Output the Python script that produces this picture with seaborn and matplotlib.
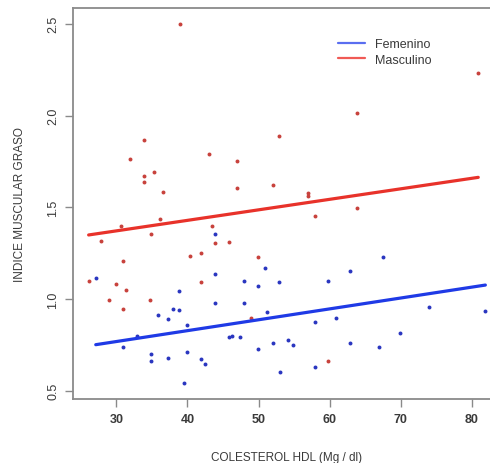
import matplotlib
matplotlib.use("Agg")
import matplotlib.pyplot as plt
import seaborn as sns
import pandas as pd
from matplotlib.lines import Line2D

# Data
masc_x = [38.9, 33.9, 31.9, 43.0, 46.9, 35.3, 33.9, 33.9, 36.6, 46.9, 36.2, 30.6, 43.5,
          80.9, 63.9, 52.9, 52.0, 57.0, 57.0, 63.9, 57.9, 27.9, 34.9, 31.0, 26.1, 30.0,
          31.4, 29.0, 34.8, 31.0, 40.3, 41.9, 41.9, 43.9, 45.9, 49.9, 48.9, 59.8]
masc_y = [2.50, 1.868, 1.761, 1.789, 1.752, 1.694, 1.672, 1.636, 1.583, 1.607, 1.436, 1.397, 1.40,
          2.23, 2.012, 1.887, 1.624, 1.576, 1.563, 1.498, 1.45, 1.314, 1.355, 1.207, 1.097, 1.084,
          1.048, 0.997, 0.995, 0.945, 1.234, 1.248, 1.093, 1.305, 1.31, 1.231, 0.895, 0.664]

fem_x = [27.1, 38.8, 38.0, 38.8, 35.9, 37.3, 39.9, 32.9, 31.0, 34.9, 34.9, 37.3, 39.9, 39.5,
         41.9, 42.4, 43.9, 43.9, 43.9, 47.9, 47.9, 45.9, 46.3, 47.4, 50.9, 49.9, 52.9, 59.8,
         51.2, 57.9, 60.9, 54.1, 52.1, 54.9, 49.9, 53.0, 57.9, 62.9, 67.5, 74.0, 81.9, 69.9,
         62.9, 66.9]
fem_y = [1.114, 1.044, 0.946, 0.938, 0.914, 0.889, 0.857, 0.80, 0.74, 0.70, 0.664, 0.678, 0.713, 0.54,
         0.671, 0.647, 1.355, 1.136, 0.977, 1.10, 0.977, 0.795, 0.797, 0.795, 1.171, 1.071, 1.093, 1.096,
         0.927, 0.873, 0.896, 0.777, 0.759, 0.749, 0.728, 0.602, 0.631, 1.151, 1.231, 0.958, 0.936, 0.816,
         0.759, 0.737]

# Fitted lines (endpoints)
masc_fit_x = [26.1, 80.9]
masc_fit_y = [1.349, 1.663]
fem_fit_x = [27.1, 81.9]
fem_fit_y = [0.751, 1.076]

x_ticks = [30, 40, 50, 60, 70, 80]
y_ticks = [0.5, 1.0, 1.5, 2.0, 2.5]
y_tick_labels = ["0.5", "1.0", "1.5", "2.0", "2.5"]

RED_PT = "#c8423c"
BLUE_PT = "#2a36c0"
RED_LN = "#e8322a"
BLUE_LN = "#1f3ae6"
TXT = "#3a3a3a"
SPINE = "#8a8a8a"

sns.set_theme(style="white")
plt.rcParams["font.family"] = ["Liberation Sans", "DejaVu Sans"]

fig = plt.figure(figsize=(4.9, 4.64), dpi=100)
ax = fig.add_axes([73 / 490, 64 / 464, 428 / 490, 391 / 464])

df_m = pd.DataFrame({"x": masc_x, "y": masc_y})
df_f = pd.DataFrame({"x": fem_x, "y": fem_y})
fit_m = pd.DataFrame({"x": masc_fit_x, "y": masc_fit_y})
fit_f = pd.DataFrame({"x": fem_fit_x, "y": fem_fit_y})

sns.scatterplot(data=df_m, x="x", y="y", ax=ax, color=RED_PT, s=8, linewidth=0)
sns.scatterplot(data=df_f, x="x", y="y", ax=ax, color=BLUE_PT, s=8, linewidth=0)
sns.lineplot(data=fit_m, x="x", y="y", ax=ax, color=RED_LN, linewidth=2.3)
sns.lineplot(data=fit_f, x="x", y="y", ax=ax, color=BLUE_LN, linewidth=2.3)

ax.set_xlim(23.9, 84.1)
ax.set_ylim(0.455, 2.586)
ax.set_xticks(x_ticks)
ax.set_xticklabels([str(t) for t in x_ticks], fontsize=9, color=TXT, fontweight="bold")
ax.set_yticks(y_ticks)
ax.set_yticklabels(y_tick_labels, fontsize=9, color=TXT, rotation=90, va="center")
ax.tick_params(axis="both", direction="out", length=6, width=1, color=SPINE, pad=4,
               bottom=True, left=True)

for side in ["left", "bottom", "top"]:
    ax.spines[side].set_color(SPINE)
    ax.spines[side].set_linewidth(1.3)
ax.spines["right"].set_visible(False)

ax.set_xlabel("COLESTEROL HDL (Mg / dl)", fontsize=8.5, color=TXT, labelpad=19)
ax.set_ylabel("INDICE MUSCULAR GRASO", fontsize=8.5, color=TXT, labelpad=15)

handles = [Line2D([0], [0], color="#5a6ef0", lw=1.6),
           Line2D([0], [0], color="#f05a55", lw=1.6)]
leg = ax.legend(handles, ["Femenino", "Masculino"], loc="upper left",
                bbox_to_anchor=(0.592, 0.952), frameon=False, fontsize=9,
                handlelength=2.2, handletextpad=0.8, labelspacing=0.3)
for t in leg.get_texts():
    t.set_color(TXT)

fig.savefig("out.png", dpi=100)
